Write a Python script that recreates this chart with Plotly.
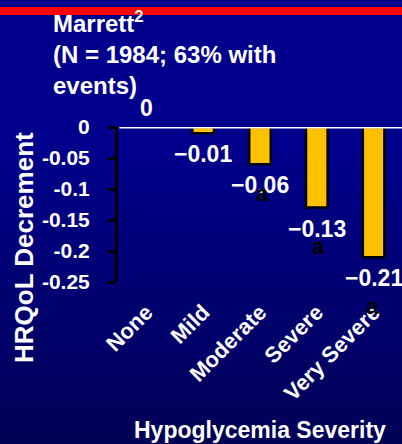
import plotly.graph_objects as go

# ---- data ----
categories = ["None", "Mild", "Moderate", "Severe", "Very Severe"]
values = [0, -0.01, -0.06, -0.13, -0.21]
value_labels = ["0", "\u22120.01", "\u22120.06", "\u22120.13", "\u22120.21"]
sig_marks = ["", "", "a", "a", "a"]
y_ticks = [0, -0.05, -0.1, -0.15, -0.2, -0.25]
y_tick_labels = ["0", "-0.05", "-0.1", "-0.15", "-0.2", "-0.25"]

title_text = "Marrett<sup>2</sup><br>(N = 1984; 63% with<br>events)"
y_title = "HRQoL Decrement"
x_title = "Hypoglycemia Severity"

# ---- layout geometry / style ----
W, H = 402, 444
L, R, T, B = 118, 0, 127, 162
PW, PH = W - L - R, H - T - B
FONT = "Liberation Sans, Arial, Helvetica, sans-serif"
BAR_COLOR = "#FFC000"
sig_yshift = [0, 0, -29, -39, -49]
sig_xshift = [0, 0, 2, 2, -1]


def px_x(px):
    return (px - L) / PW


def px_y(py):
    return 1 - (py - T) / PH


fig = go.Figure()
fig.add_trace(go.Bar(
    x=categories, y=values, width=0.38,
    marker=dict(color=BAR_COLOR, line=dict(color="black", width=2.5)),
    hoverinfo="skip",
))

shapes = []
# background gradient
top_c = (0, 0, 140)
bot_c = (0, 0, 85)
start = 150
n_bands = 60
band_h = H / n_bands
for i in range(n_bands):
    y0 = i * band_h
    y1 = (i + 1) * band_h + 0.6
    mid = (y0 + y1) / 2
    t = 0 if mid < start else (mid - start) / (H - start)
    c = tuple(int(round(top_c[k] + (bot_c[k] - top_c[k]) * t)) for k in range(3))
    shapes.append(dict(type="rect", xref="paper", yref="paper",
                       x0=px_x(-2), x1=px_x(W + 2), y0=px_y(y1), y1=px_y(y0),
                       fillcolor="rgb(%d,%d,%d)" % c, line=dict(width=0), layer="below"))
# red band at top
shapes.append(dict(type="rect", xref="paper", yref="paper",
                   x0=px_x(-2), x1=px_x(W + 2), y0=px_y(15), y1=px_y(7),
                   fillcolor="#FF0000", line=dict(width=0), layer="below"))
# white zero line
shapes.append(dict(type="line", xref="paper", yref="y", x0=0.005, x1=1, y0=0, y1=0,
                   line=dict(color="white", width=3), layer="above"))

annotations = []
for i, (c, v, lab) in enumerate(zip(categories, values, value_labels)):
    annotations.append(dict(x=c, y=v, xref="x", yref="y", text=lab, showarrow=False,
                            yanchor="middle", yshift=19 if v == 0 else -21,
                            font=dict(family=FONT, size=23, color="white", weight="bold")))
    if sig_marks[i]:
        annotations.append(dict(x=c, y=v, xref="x", yref="y", text=sig_marks[i], showarrow=False,
                                yanchor="middle", yshift=sig_yshift[i], xshift=sig_xshift[i],
                                font=dict(family=FONT, size=22, color="black", weight="bold")))

annotations.append(dict(x=px_x(51), y=px_y(5), xref="paper", yref="paper", text=title_text,
                        showarrow=False, xanchor="left", yanchor="top", align="left",
                        font=dict(family=FONT, size=24, color="white", weight="bold")))
annotations.append(dict(x=px_x(24), y=px_y(248), xref="paper", yref="paper", text=y_title,
                        showarrow=False, textangle=-90, xanchor="center", yanchor="middle",
                        font=dict(family=FONT, size=26, color="white", weight="bold")))
annotations.append(dict(x=px_x(260), y=px_y(430), xref="paper", yref="paper", text=x_title,
                        showarrow=False, xanchor="center", yanchor="middle",
                        font=dict(family=FONT, size=23, color="white", weight="bold")))

fig.update_layout(
    width=W, height=H,
    margin=dict(l=L, r=R, t=T, b=B, pad=0),
    paper_bgcolor="#00008C", plot_bgcolor="rgba(0,0,0,0)",
    showlegend=False, hovermode=False,
    shapes=shapes, annotations=annotations,
    xaxis=dict(range=[-0.5, 4.5], showgrid=False, zeroline=False, showline=False,
               ticks="", tickangle=-45, ticklabelstandoff=12, fixedrange=True,
               tickfont=dict(family=FONT, size=22, color="white", weight="bold")),
    yaxis=dict(range=[-0.25, 0], tickvals=y_ticks, ticktext=y_tick_labels,
               showgrid=False, zeroline=False, showline=True, linecolor="black", linewidth=3,
               ticks="outside", ticklen=7, tickwidth=3, tickcolor="black",
               ticklabelstandoff=14, fixedrange=True,
               tickfont=dict(family=FONT, size=21, color="white", weight="bold")),
)

fig.write_html("out.html", config={"displayModeBar": False, "staticPlot": True},
               post_script="document.body.style.margin='0';document.body.style.overflow='hidden';")
